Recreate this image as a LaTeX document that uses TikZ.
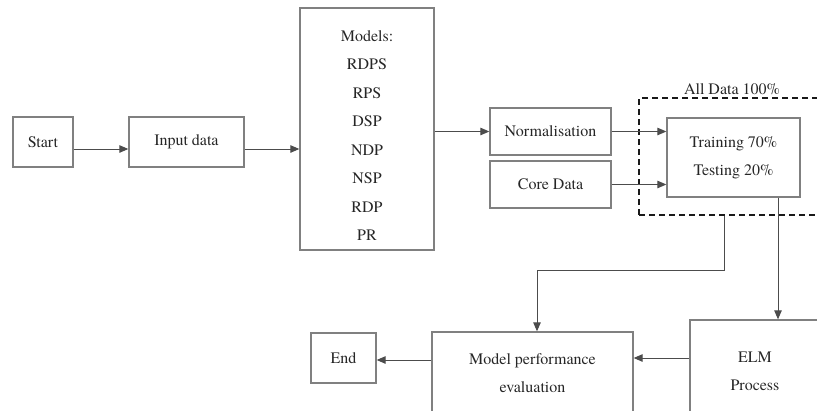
\documentclass[tikz,border=0pt]{standalone}
\usepackage{fontspec}
\setmainfont{TeX Gyre Termes}
\usetikzlibrary{arrows.meta}
\begin{document}
\begin{tikzpicture}[x=1pt,y=-1pt,
  box/.style={draw=black!50, line width=1.3pt, inner sep=0pt, align=center, text=black!85,
    font=\fontsize{16}{28}\selectfont},
  txt/.style={inner sep=0pt, align=center, text=black!85, font=\fontsize{16}{28.5}\selectfont},
  arr/.style={draw=black!70, line width=1pt, -{Triangle[length=9pt,width=7.5pt]}},
  dashbox/.style={draw=black!90, line width=1.3pt, dash pattern=on 6pt off 4pt, inner sep=0pt}]
\useasboundingbox (0,0) rectangle (817,410);
\clip (0,0) rectangle (817,410);
\node[box, minimum width=60pt, minimum height=50pt] (start) at (43,142) {Start};
\node[box, minimum width=115pt, minimum height=50pt] (input) at (186.5,142) {Input data};
\node[box, minimum width=134pt, minimum height=242pt] (models) at (367,129) {};
\node[txt] (modelstext) at (367,135.5) {Models:\\RDPS\\RPS\\DSP\\NDP\\NSP\\RDP\\PR};
\node[box, minimum width=121pt, minimum height=47pt] (norm) at (550.5,131.5) {Normalisation};
\node[box, minimum width=121pt, minimum height=47pt] (core) at (550.5,184.5) {Core Data};
\node[dashbox, minimum width=191pt, minimum height=117pt] (all) at (734.5,156.5) {};
\node[txt] (alllabel) at (732,89) {All Data 100\%};
\node[box, minimum width=133pt, minimum height=79pt] (train) at (733.5,157.5) {Training 70\%\\Testing 20\%};
\node[box, minimum width=130pt, minimum height=102pt] (elm) at (755,371) {ELM\\Process};
\node[box, minimum width=201pt, minimum height=82pt] (perf) at (532.5,373) {Model performance\\evaluation};
\node[box, minimum width=65pt, minimum height=50pt] (end) at (343.5,358) {End};
\draw[arr] ([yshift=-7pt]start.east) -- ([yshift=-7pt]input.west);
\draw[arr] ([yshift=-7pt]input.east) -- ([yshift=-7pt]input.east -| models.west);
\draw[arr] (models.east |- norm.west) -- (norm.west);
\draw[arr] (norm.east) -- (norm.east -| train.west);
\draw[arr] (core.east) -- (core.east -| train.west);
\draw[arr] ([xshift=44.5pt]train.south) -- ([xshift=44.5pt]train.south |- elm.north);
\draw[arr] ([xshift=-10.5pt]all.south) -- ++(0,55) -| ([xshift=4.5pt]perf.north);
\draw[arr] ([yshift=13pt]elm.west) -- ([yshift=13pt]elm.west -| perf.east);
\draw[arr] ([yshift=13pt]perf.west) -- ([yshift=13pt]perf.west -| end.east);
\end{tikzpicture}
\end{document}
